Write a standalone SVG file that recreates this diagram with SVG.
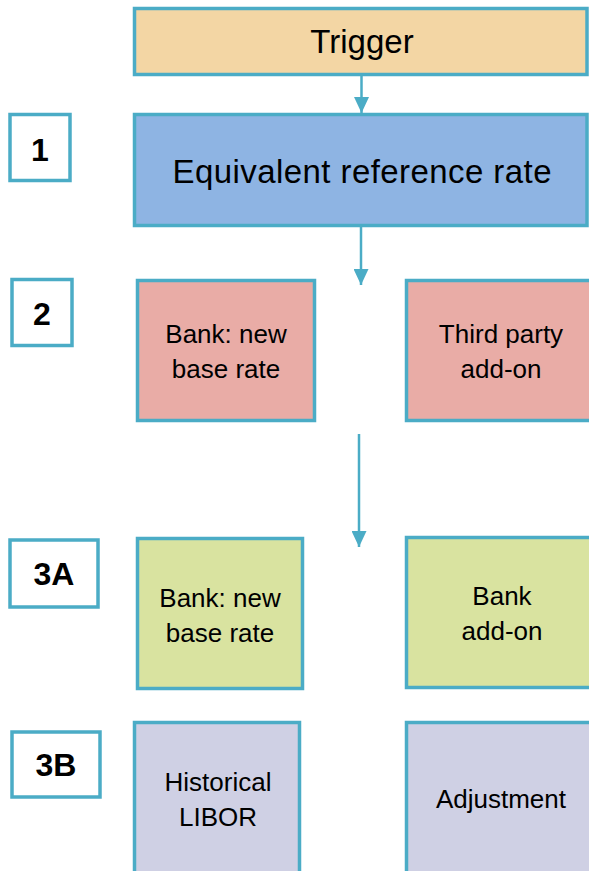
<svg xmlns="http://www.w3.org/2000/svg" width="589" height="871" viewBox="0 0 589 871">
<defs>
<style>
.b{stroke:#4BACC6;stroke-width:3.5}
.t{font-family:"Liberation Sans",Arial,sans-serif;fill:#000;text-anchor:middle}
.big{font-size:33px}
.mid{font-size:26px}
.num{font-size:32px;font-weight:bold}
.c{stroke:#4BACC6;stroke-width:2.5;fill:none}
</style>
<marker id="ah" markerUnits="userSpaceOnUse" markerWidth="16" markerHeight="15" refX="16" refY="7.5" orient="auto">
<path d="M0,0 L16,7.5 L0,15 Z" fill="#4BACC6"/>
</marker>
</defs>
<rect width="589" height="871" fill="#fff"/>
<g id="connectors">
<line class="c" x1="361.5" y1="75" x2="361.5" y2="113" marker-end="url(#ah)"/>
<line class="c" x1="361" y1="226" x2="361" y2="285" marker-end="url(#ah)"/>
<line class="c" x1="359" y1="434" x2="359" y2="547" marker-end="url(#ah)"/>
</g>
<g id="trigger">
<rect class="b" x="134.5" y="8.5" width="452.5" height="66" fill="#F3D6A4"/>
<text class="t big" x="362" y="53">Trigger</text>
</g>
<g id="equivalent">
<rect class="b" x="134.5" y="114.5" width="452.5" height="111" fill="#8EB4E3"/>
<text class="t big" x="362" y="183" textLength="379">Equivalent reference rate</text>
</g>
<g id="label1">
<rect class="b" x="10" y="114.5" width="60" height="66" fill="#fff"/>
<text class="t num" x="40" y="161">1</text>
</g>
<g id="label2">
<rect class="b" x="12" y="279.5" width="60" height="66" fill="#fff"/>
<text class="t num" x="42" y="325">2</text>
</g>
<g id="label3a">
<rect class="b" x="10" y="540" width="88" height="67" fill="#fff"/>
<text class="t num" x="54" y="585">3A</text>
</g>
<g id="label3b">
<rect class="b" x="12" y="732" width="88" height="65" fill="#fff"/>
<text class="t num" x="56" y="776">3B</text>
</g>
<g id="bank-base-2">
<rect class="b" x="137.5" y="280.5" width="177" height="140" fill="#E9ACA6"/>
<text class="t mid" x="226" y="343">Bank: new</text>
<text class="t mid" x="226" y="378">base rate</text>
</g>
<g id="third-party">
<rect class="b" x="406.5" y="280.5" width="190" height="140" fill="#E9ACA6"/>
<text class="t mid" x="501" y="343">Third party</text>
<text class="t mid" x="501" y="378">add-on</text>
</g>
<g id="bank-base-3a">
<rect class="b" x="137.5" y="538.5" width="165" height="150" fill="#D9E3A0"/>
<text class="t mid" x="220" y="607">Bank: new</text>
<text class="t mid" x="220" y="642">base rate</text>
</g>
<g id="bank-addon">
<rect class="b" x="406.5" y="537.5" width="190" height="150" fill="#D9E3A0"/>
<text class="t mid" x="502" y="605">Bank</text>
<text class="t mid" x="502" y="640">add-on</text>
</g>
<g id="historical">
<rect class="b" x="134.5" y="722.5" width="165" height="160" fill="#CFD0E4"/>
<text class="t mid" x="218" y="791">Historical</text>
<text class="t mid" x="218" y="826">LIBOR</text>
</g>
<g id="adjustment">
<rect class="b" x="406.5" y="722.5" width="190" height="160" fill="#CFD0E4"/>
<text class="t mid" x="501" y="808">Adjustment</text>
</g>
</svg>
